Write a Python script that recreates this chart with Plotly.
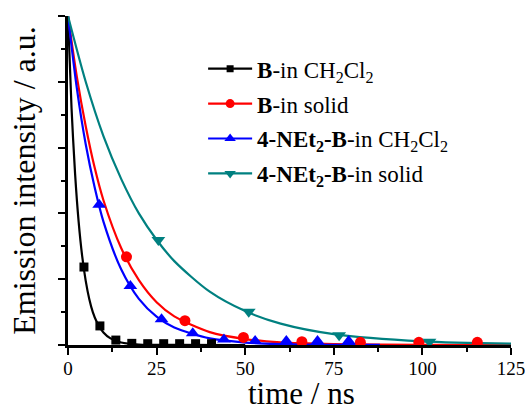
import plotly.graph_objects as go

# ---- data ----
# fitted decay curves (read at selected times)
t_B_dcm = [0, 1, 2, 3, 4, 5, 6, 7, 8, 10, 12, 15, 20, 30, 50]
y_B_dcm = [1.0, 0.72, 0.52, 0.375, 0.27, 0.195, 0.14, 0.10, 0.073, 0.038, 0.02, 0.0075, 0.0015, 0.0001, 0.0]

t_B_sol = [0, 2.5, 5, 7.5, 10, 15, 20, 25, 30, 40, 50, 60, 75, 100, 125]
y_B_sol = [1.0, 0.815, 0.665, 0.54, 0.44, 0.295, 0.197, 0.13, 0.087, 0.039, 0.018, 0.008, 0.003, 0.0006, 0.0]

t_N_dcm = [0, 2.5, 5, 7.5, 10, 15, 20, 25, 30, 40, 50, 60, 75, 88]
y_N_dcm = [1.0, 0.78, 0.61, 0.48, 0.375, 0.23, 0.14, 0.086, 0.053, 0.02, 0.0075, 0.003, 0.0006, 0.0002]

t_N_sol = [0, 5, 10, 15, 20, 25, 30, 40, 50, 60, 75, 100, 125]
y_N_sol = [1.0, 0.80, 0.635, 0.505, 0.40, 0.32, 0.255, 0.162, 0.103, 0.065, 0.033, 0.011, 0.004]

# measured points (markers)
m_t_B_dcm = [4.5, 9.0, 13.5, 18.0, 22.5, 27.0, 31.5, 36.0, 40.5]
m_y_B_dcm = [0.237, 0.058, 0.015, 0.005, 0.004, 0.004, 0.004, 0.004, 0.004]

m_t_B_sol = [16.5, 33.0, 49.5, 66.0, 82.5, 99.0, 115.5]
m_y_B_sol = [0.268, 0.074, 0.023, 0.010, 0.008, 0.008, 0.008]

m_t_N_dcm = [8.8, 17.6, 26.4, 35.2, 44.0, 52.8, 61.6, 70.4, 79.2]
m_y_N_dcm = [0.426, 0.179, 0.078, 0.036, 0.017, 0.012, 0.012, 0.012, 0.012]

m_t_N_sol = [25.5, 51.0, 76.5, 102.0]
m_y_N_sol = [0.319, 0.101, 0.030, 0.010]

names = [
    "<b>B</b>-in CH<sub>2</sub>Cl<sub>2</sub>",
    "<b>B</b>-in solid",
    "<b>4-NEt<sub>2</sub>-B</b>-in CH<sub>2</sub>Cl<sub>2</sub>",
    "<b>4-NEt<sub>2</sub>-B</b>-in solid",
]
colors = ["#000000", "#ff0000", "#0000ff", "#008080"]
symbols = ["square", "circle", "triangle-up", "triangle-down"]
msizes = [9, 11, 12, 12]

curves = [(t_B_dcm, y_B_dcm), (t_B_sol, y_B_sol), (t_N_dcm, y_N_dcm), (t_N_sol, y_N_sol)]
marks = [(m_t_B_dcm, m_y_B_dcm), (m_t_B_sol, m_y_B_sol), (m_t_N_dcm, m_y_N_dcm), (m_t_N_sol, m_y_N_sol)]

FONT = "Liberation Serif"

fig = go.Figure()
for i in range(4):
    fig.add_trace(go.Scatter(x=curves[i][0], y=curves[i][1], mode="lines",
                             line=dict(color=colors[i], width=2.2, shape="spline", smoothing=0.8),
                             showlegend=False, hoverinfo="skip"))
for i in range(4):
    fig.add_trace(go.Scatter(x=marks[i][0], y=marks[i][1], mode="markers",
                             marker=dict(symbol=symbols[i], color=colors[i], size=msizes[i]),
                             showlegend=False))
for i in range(4):
    fig.add_trace(go.Scatter(x=[None], y=[None], mode="lines+markers", name=names[i],
                             legendgroup="g%d" % i,
                             line=dict(color=colors[i], width=2.2),
                             marker=dict(symbol=symbols[i], color=colors[i], size=msizes[i] - 2)))

fig.update_layout(
    width=525, height=407,
    margin=dict(l=68, r=14, t=16, b=62),
    paper_bgcolor="white", plot_bgcolor="white",
    font=dict(family=FONT, color="black"),
    showlegend=True,
    legend=dict(x=0.305, y=0.905, xanchor="left", yanchor="top",
                bgcolor="rgba(0,0,0,0)", font=dict(family=FONT, size=23, color="black"),
                itemwidth=44, tracegroupgap=2, traceorder="grouped"),
    xaxis=dict(range=[0, 125], showgrid=False, zeroline=False, automargin=False,
               showline=True, linecolor="black", linewidth=2.5,
               ticks="outside", ticklen=7, tickwidth=2, tickcolor="black",
               tick0=0, dtick=25, ticklabeloverflow="allow", ticklabelstandoff=-3,
               minor=dict(ticks="outside", ticklen=4, tickwidth=2, tickcolor="black", dtick=12.5),
               tickfont=dict(family=FONT, size=19, color="black")),
    yaxis=dict(range=[0, 1], showgrid=False, zeroline=False, automargin=False,
               showline=True, linecolor="black", linewidth=2.5,
               ticks="outside", ticklen=7, tickwidth=2, tickcolor="black",
               tick0=0, dtick=0.2, showticklabels=False,
               minor=dict(ticks="outside", ticklen=4, tickwidth=2, tickcolor="black", dtick=0.1),
               title=dict(text="Emission intensity / a.u.", standoff=14,
                          font=dict(family=FONT, size=32, color="black"))),
    annotations=[dict(text="time / ns", xref="paper", yref="paper",
                      x=0.526, y=-0.148, xanchor="center", yanchor="middle", showarrow=False,
                      font=dict(family=FONT, size=31, color="black"))],
)

fig.write_html("out.html", config={"displayModeBar": False},
               post_script="document.body.style.margin='0';")
